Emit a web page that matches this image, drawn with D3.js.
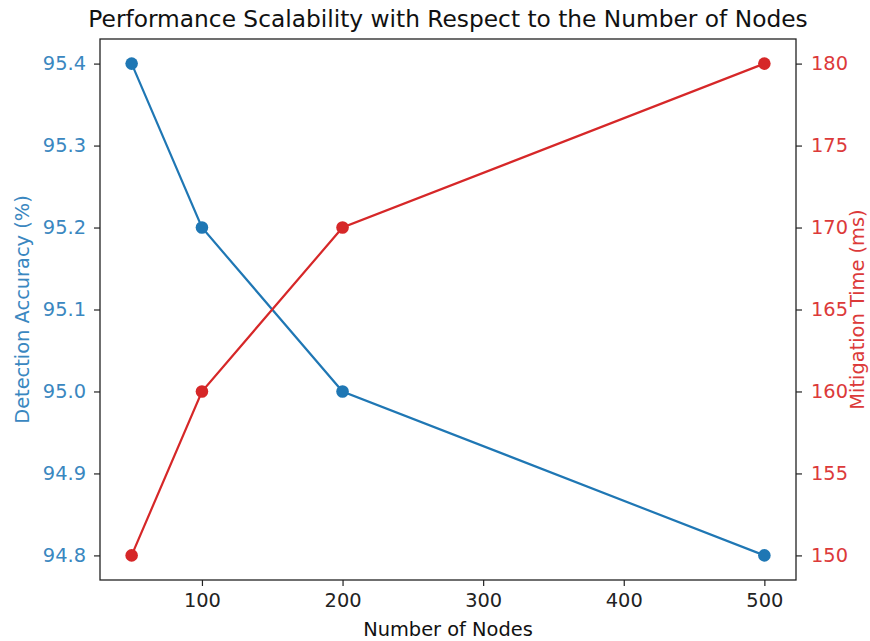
<!DOCTYPE html>
<html>
<head>
<meta charset="utf-8">
<script src="https://cdn.jsdelivr.net/npm/d3@7"></script>
<style>
  body { margin: 0; background: #fff; }
  text { font-family: "DejaVu Sans", sans-serif; }
</style>
</head>
<body>
<div id="chart"></div>
<script>
// data
var nodes = [50, 100, 200, 500];
var accuracy = [95.4, 95.2, 95.0, 94.8];
var mitigation = [150, 160, 170, 180];
var xTicks = [100, 200, 300, 400, 500];
var accTicks = [94.8, 94.9, 95.0, 95.1, 95.2, 95.3, 95.4];
var timeTicks = [150, 155, 160, 165, 170, 175, 180];

var width = 870, height = 641;
var margin = {top: 39, right: 74, bottom: 61, left: 100};
var w = width - margin.left - margin.right;
var h = height - margin.top - margin.bottom;

var blue = "#1f77b4", red = "#d62728";
var fs = 19.4;

var svg = d3.select("#chart").append("svg")
  .attr("width", width)
  .attr("height", height);

var g = svg.append("g")
  .attr("transform", "translate(" + margin.left + "," + margin.top + ")");

// matplotlib style 5% padding
var x = d3.scaleLinear().domain([27.5, 522.5]).range([0, w]);
var yL = d3.scaleLinear().domain([94.77, 95.43]).range([h, 0]);
var yR = d3.scaleLinear().domain([148.5, 181.5]).range([h, 0]);

var xAxis = g.append("g")
  .attr("transform", "translate(0," + h + ")")
  .call(d3.axisBottom(x).tickValues(xTicks).tickSize(6).tickPadding(7).tickFormat(d3.format("d")));

var leftAxis = g.append("g")
  .call(d3.axisLeft(yL).tickValues(accTicks).tickSize(6).tickPadding(8).tickFormat(d3.format(".1f")));

var rightAxis = g.append("g")
  .attr("transform", "translate(" + w + ",0)")
  .call(d3.axisRight(yR).tickValues(timeTicks).tickSize(6).tickPadding(9).tickFormat(d3.format("d")));

[xAxis, leftAxis, rightAxis].forEach(function(a) {
  a.select(".domain").remove();
  a.selectAll("line").attr("stroke", "#222").attr("stroke-width", 1.2);
  a.selectAll("text").attr("font-size", fs).attr("font-family", "DejaVu Sans, sans-serif");
});
xAxis.selectAll("text").attr("fill", "#222");
leftAxis.selectAll("text").attr("fill", "#3a87c0");
rightAxis.selectAll("text").attr("fill", "#dc3a3a");

// frame
g.append("rect")
  .attr("width", w).attr("height", h)
  .attr("fill", "none").attr("stroke", "#222").attr("stroke-width", 1.3);

var lineL = d3.line()
  .x(function(d, i) { return x(nodes[i]); })
  .y(function(d) { return yL(d); });
var lineR = d3.line()
  .x(function(d, i) { return x(nodes[i]); })
  .y(function(d) { return yR(d); });

g.append("path").datum(accuracy)
  .attr("d", lineL).attr("fill", "none")
  .attr("stroke", blue).attr("stroke-width", 2.2);
g.selectAll(".dotA").data(accuracy).enter().append("circle")
  .attr("class", "dotA")
  .attr("cx", function(d, i) { return x(nodes[i]); })
  .attr("cy", function(d) { return yL(d); })
  .attr("r", 6.3).attr("fill", blue);

g.append("path").datum(mitigation)
  .attr("d", lineR).attr("fill", "none")
  .attr("stroke", red).attr("stroke-width", 2.2);
g.selectAll(".dotM").data(mitigation).enter().append("circle")
  .attr("class", "dotM")
  .attr("cx", function(d, i) { return x(nodes[i]); })
  .attr("cy", function(d) { return yR(d); })
  .attr("r", 6.3).attr("fill", red);

// labels
svg.append("text")
  .attr("x", margin.left + w / 2).attr("y", 27)
  .attr("text-anchor", "middle").attr("font-size", 23.3).attr("fill", "#111")
  .text("Performance Scalability with Respect to the Number of Nodes");

svg.append("text")
  .attr("x", margin.left + w / 2).attr("y", 636)
  .attr("text-anchor", "middle").attr("font-size", fs).attr("fill", "#111")
  .text("Number of Nodes");

svg.append("text")
  .attr("transform", "translate(29," + (margin.top + h / 2) + ") rotate(-90)")
  .attr("text-anchor", "middle").attr("font-size", fs).attr("fill", "#3a87c0")
  .text("Detection Accuracy (%)");

svg.append("text")
  .attr("transform", "translate(864," + (margin.top + h / 2) + ") rotate(-90)")
  .attr("text-anchor", "middle").attr("font-size", fs).attr("fill", "#dc3a3a")
  .text("Mitigation Time (ms)");
</script>
</body>
</html>
